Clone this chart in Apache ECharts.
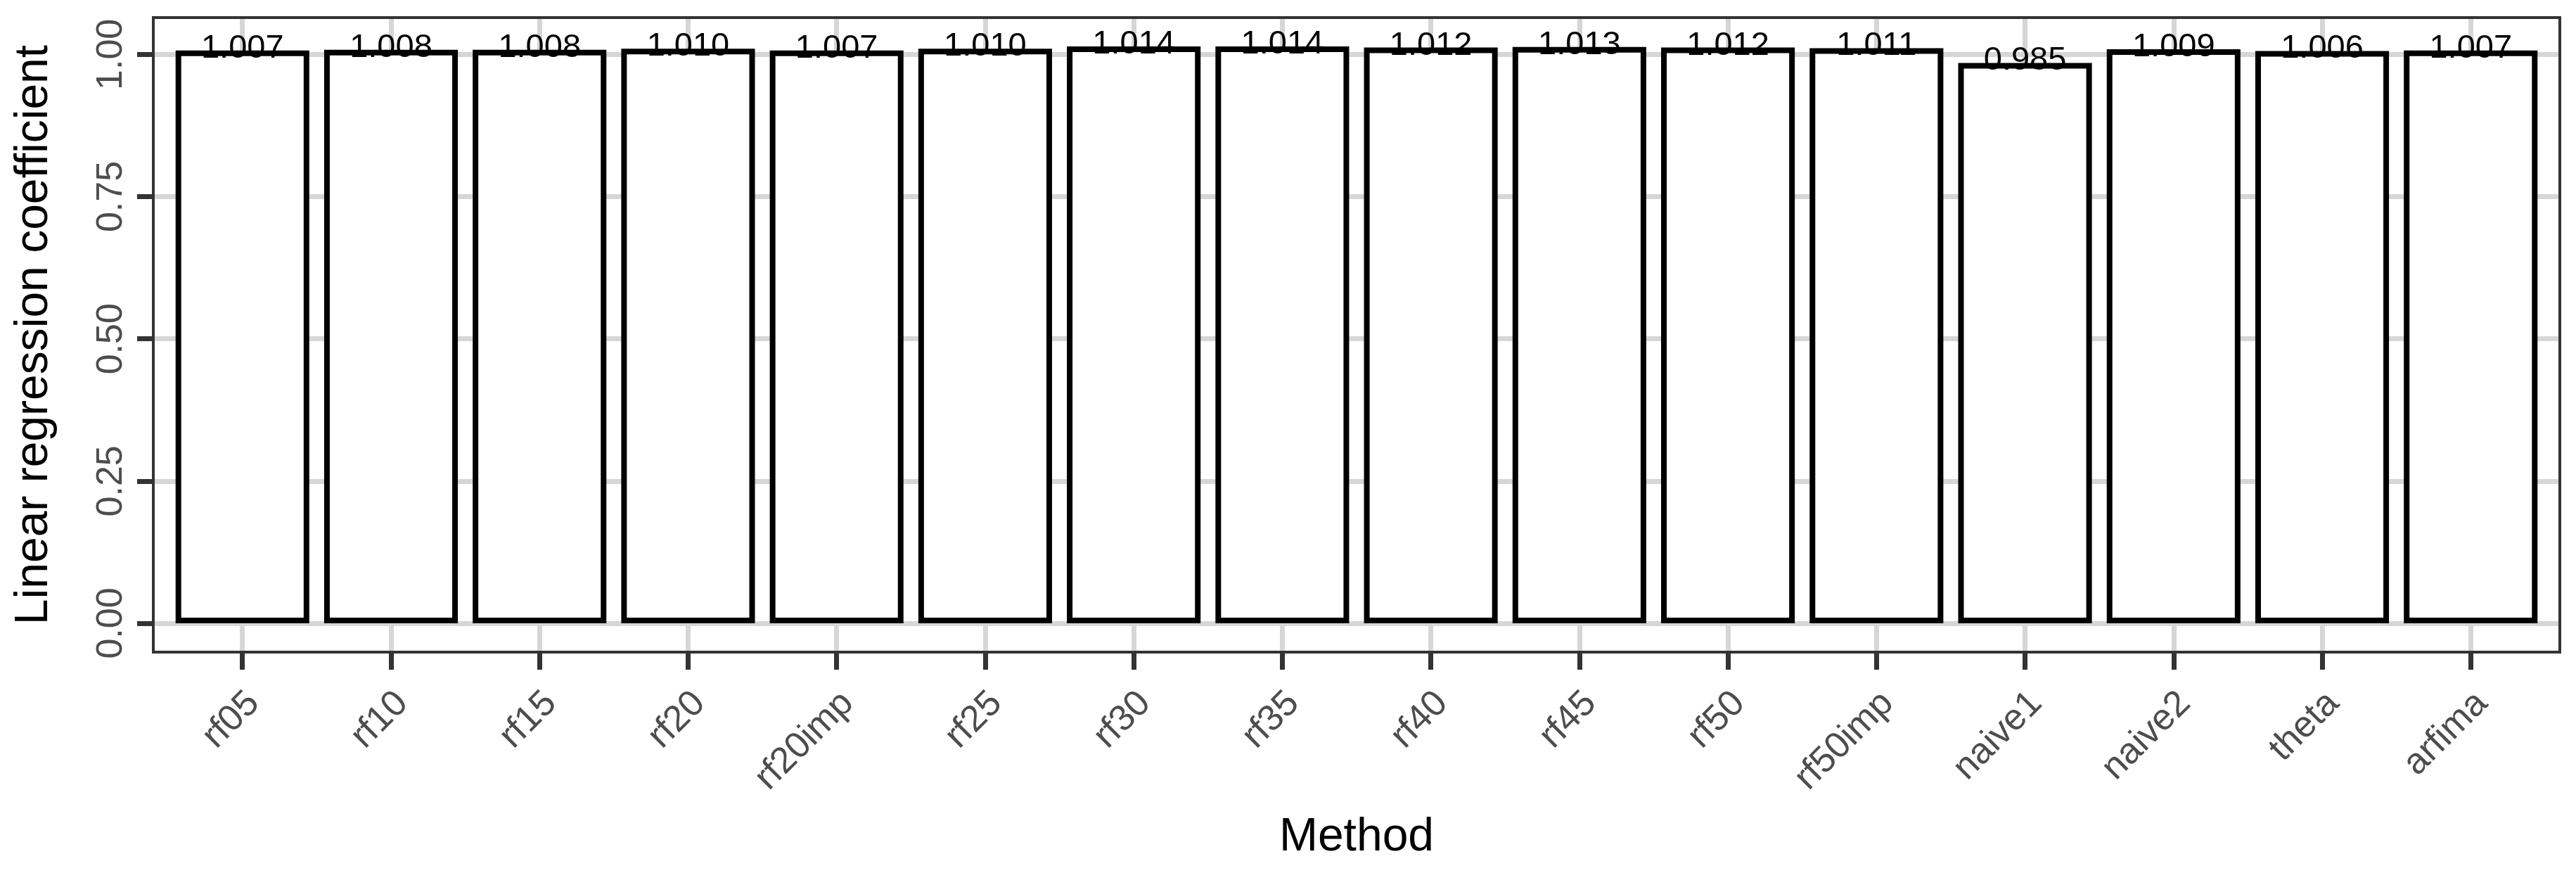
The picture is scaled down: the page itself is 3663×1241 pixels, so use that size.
<!DOCTYPE html>
<html>
<head>
<meta charset="utf-8">
<script src="https://cdn.jsdelivr.net/npm/echarts@6/dist/echarts.min.js"></script>
<style>
html,body{margin:0;padding:0;background:#fff;}
#chart{width:3663px;height:1241px;}
</style>
</head>
<body>
<div id="chart"></div>
<script>
const methods = ["rf05","rf10","rf15","rf20","rf20imp","rf25","rf30","rf35","rf40","rf45","rf50","rf50imp","naive1","naive2","theta","arfima"];
const coefficients = [1.007,1.008,1.008,1.010,1.007,1.010,1.014,1.014,1.012,1.013,1.012,1.011,0.985,1.009,1.006,1.007];
const yTicks = [0, 0.25, 0.5, 0.75, 1.0];
const xTitle = "Method";
const yTitle = "Linear regression coefficient";

const FONT = "Liberation Sans, Arial, Helvetica, sans-serif";
// panel layout (ggplot-like)
const L = 218, R = 3640, T = 25, B = 927;
const dataMax = Math.max.apply(null, coefficients);
const lo = -0.05 * dataMax, hi = dataMax * 1.05;
const yOf = v => B - (v - lo) / (hi - lo) * (B - T);
const unit = (R - L) / (methods.length + 0.2);
const labelShift = 16;
const gridCommon = { containLabel: false, outerBoundsMode: 'none' };
const gridLine = { color: '#D6D6D6', width: 7 };
const tickStyle = { color: '#333333', width: 7 };

const chart = echarts.init(document.getElementById('chart'), null, { renderer: 'canvas' });
chart.setOption({
  backgroundColor: '#ffffff',
  animation: false,
  grid: [
    Object.assign({ left: L, top: T, width: R - L, height: B - T, show: true, borderColor: '#333333', borderWidth: 4, backgroundColor: 'transparent', z: 10 }, gridCommon),
    Object.assign({ left: L, top: yOf(1), width: R - L, height: yOf(0) - yOf(1) }, gridCommon),
    Object.assign({ left: L + 0.6 * unit, top: T, width: (methods.length - 1) * unit, height: B - T }, gridCommon),
    Object.assign({ left: L + 0.1 * unit, top: T, width: methods.length * unit, height: B - T }, gridCommon),
    Object.assign({ left: L + 0.6 * unit + labelShift, top: T, width: (methods.length - 1) * unit, height: B - T }, gridCommon)
  ],
  xAxis: [
    { gridIndex: 0, type: 'value', min: 0, max: 1, name: xTitle, nameLocation: 'middle', nameGap: 231,
      nameTextStyle: { fontSize: 66, color: '#000', fontFamily: FONT },
      axisLine: { show: false }, axisTick: { show: false }, axisLabel: { show: false }, splitLine: { show: false } },
    { gridIndex: 1, type: 'value', min: 0, max: 1, show: false },
    { gridIndex: 2, type: 'category', data: methods, boundaryGap: false,
      axisLine: { show: false },
      axisTick: { show: true, length: 25, lineStyle: tickStyle, interval: 0 },
      axisLabel: { show: false },
      splitLine: { show: true, interval: 0, lineStyle: gridLine } },
    { gridIndex: 3, type: 'category', data: methods, show: false },
    { gridIndex: 4, type: 'category', data: methods, boundaryGap: false,
      axisLine: { show: false }, axisTick: { show: false }, splitLine: { show: false },
      axisLabel: { show: true, rotate: 45, interval: 0, margin: 65, fontSize: 52, color: '#4D4D4D', fontFamily: FONT } }
  ],
  yAxis: [
    { gridIndex: 0, type: 'value', min: 0, max: 1, name: yTitle, nameLocation: 'middle', nameGap: 136, nameRotate: 90,
      nameTextStyle: { fontSize: 66, color: '#000', fontFamily: FONT },
      axisLine: { show: false }, axisTick: { show: false }, axisLabel: { show: false }, splitLine: { show: false } },
    { gridIndex: 1, type: 'value', min: yTicks[0], max: yTicks[yTicks.length - 1], interval: 0.25,
      axisLine: { show: false },
      axisTick: { show: true, length: 23, lineStyle: tickStyle },
      axisLabel: { show: true, rotate: 90, margin: 33, fontSize: 52, color: '#4D4D4D', fontFamily: FONT,
        formatter: v => v.toFixed(2) },
      splitLine: { show: true, lineStyle: gridLine } },
    { gridIndex: 2, type: 'value', show: false },
    { gridIndex: 3, type: 'value', min: lo, max: hi, show: false },
    { gridIndex: 4, type: 'value', show: false }
  ],
  series: [{
    type: 'bar',
    xAxisIndex: 3, yAxisIndex: 3,
    data: coefficients,
    barWidth: '90%',
    itemStyle: { color: '#ffffff', borderColor: '#000000', borderWidth: 8 },
    label: {
      show: true, position: ['50%', 0], align: 'center', verticalAlign: 'middle', offset: [0, -3],
      fontSize: 47, color: '#000', fontFamily: FONT,
      formatter: p => p.value.toFixed(3)
    },
    z: 2
  }]
});
</script>
</body>
</html>
